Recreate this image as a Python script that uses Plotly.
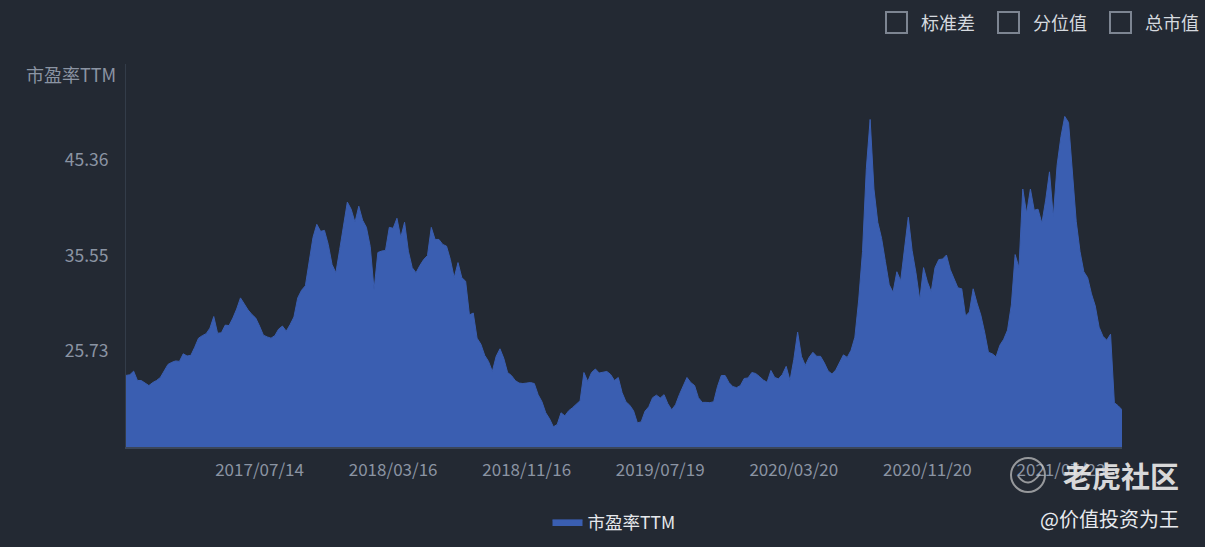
import pandas as pd
import plotly.graph_objects as go

start_date = "2016-11-11"
pe_ttm = [
    23.25, 23.32, 23.69, 22.73, 22.73, 22.45, 22.21, 22.52, 22.73, 23.04,
    23.66, 24.38, 24.59, 24.74, 24.69, 25.47, 25.24, 25.31, 26.14, 27.07,
    27.33, 27.53, 28.10, 29.29, 27.58, 27.62, 28.41, 28.36, 29.13, 30.06,
    31.20, 30.58, 29.96, 29.50, 29.13, 28.31, 27.38, 27.20, 27.07, 27.33,
    28.00, 28.31, 27.79, 28.46, 29.24, 31.20, 31.98, 32.44, 34.71, 37.40,
    38.74, 38.02, 38.12, 36.68, 34.61, 33.78, 36.16, 38.74, 41.02, 40.29,
    38.95, 40.60, 39.16, 38.43, 36.47, 32.03, 35.85, 36.00, 36.06, 38.43,
    38.33, 39.36, 37.40, 38.95, 35.98, 34.30, 33.78, 34.51, 35.13, 35.54,
    38.43, 37.19, 37.19, 36.68, 36.50, 35.13, 33.27, 34.82, 33.27, 32.91,
    29.45, 29.65, 27.07, 26.45, 25.31, 24.69, 23.66, 25.21, 25.98, 25.00,
    23.55, 23.24, 22.73, 22.47, 22.42, 22.47, 22.52, 22.42, 21.28, 20.56,
    19.42, 18.80, 17.98, 18.23, 19.42, 19.11, 19.63, 19.94, 20.35, 20.66,
    23.55, 22.63, 23.55, 23.91, 23.50, 23.61, 23.66, 23.35, 22.73, 23.04,
    21.49, 20.56, 20.20, 19.63, 18.39, 18.49, 19.58, 20.04, 20.97, 21.23,
    20.94, 21.28, 20.35, 19.73, 20.25, 21.28, 22.11, 23.04, 22.52, 22.21,
    20.97, 20.49, 20.49, 20.46, 20.56, 22.11, 23.24, 23.24, 22.52, 22.11,
    22.00, 22.21, 22.94, 22.99, 23.55, 23.45, 23.14, 22.78, 22.55, 23.76,
    23.04, 22.90, 23.35, 24.18, 22.73, 24.90, 27.69, 25.21, 24.28, 25.10,
    25.62, 25.21, 25.21, 24.54, 23.71, 23.40, 23.81, 24.59, 25.36, 25.10,
    25.83, 27.17, 30.99, 35.95, 44.43, 49.49, 42.36, 38.95, 37.30, 34.92,
    32.54, 31.77, 33.88, 32.96, 35.95, 39.47, 36.06, 33.78, 30.99, 34.30,
    32.85, 31.82, 34.30, 35.13, 35.18, 35.59, 34.09, 33.06, 32.23, 32.13,
    29.34, 29.75, 32.13, 30.68, 29.44, 27.69, 25.62, 25.47, 25.16, 26.35,
    26.96, 27.90, 30.48, 35.64, 34.30, 42.36, 39.88, 42.36, 40.19, 40.29,
    38.85, 41.22, 44.12, 39.47, 44.84, 47.73, 49.80, 49.18, 43.91, 39.05,
    35.95, 33.88, 33.27, 31.61, 30.37, 28.20, 27.27, 26.86, 27.48, 20.45,
    20.14, 19.73,
]
y_min, y_max = 15.915, 55.175
y_tick_values = [25.73, 35.545, 45.36]
y_tick_labels = ["25.73", "35.55", "45.36"]
x_tick_dates = ["2017-07-14", "2018-03-16", "2018-11-16", "2019-07-19",
                "2020-03-20", "2020-11-20", "2021-07-23"]
x_tick_labels = ["2017/07/14", "2018/03/16", "2018/11/16", "2019/07/19",
                 "2020/03/20", "2020/11/20", "2021/07/23"]
series_name = "市盈率TTM"
toggle_labels = ["标准差", "分位值", "总市值"]

dates = pd.date_range(start=start_date, periods=len(pe_ttm), freq="7D")

BG = "#232933"
FILL = "#3a5eb1"
TXT = "#8b94a3"
FONT = "Noto Sans CJK SC"

W, H = 1205, 547
ml, mr, mt, mb = 126, 83, 64, 100
PW, PH = W - ml - mr, H - mt - mb


def px(xp):
    return (xp - ml) / PW


def py(yp):
    return (H - mb - yp) / PH


fig = go.Figure()
fig.add_trace(go.Scatter(
    x=dates, y=pe_ttm, name=series_name, mode="lines",
    line=dict(color=FILL, width=1), fill="tozeroy", fillcolor=FILL,
))

fig.update_layout(
    width=W, height=H,
    paper_bgcolor=BG, plot_bgcolor=BG,
    margin=dict(l=ml, r=mr, t=mt, b=mb, autoexpand=False),
    font=dict(family=FONT, color=TXT, size=17),
    showlegend=True,
    legend=dict(orientation="h", x=px(614), xanchor="center",
                y=py(522), yanchor="middle", font=dict(color="#e6e8ec", size=17.5),
                bgcolor="rgba(0,0,0,0)", itemwidth=30),
    xaxis=dict(
        range=[dates[0], dates[-1]], showgrid=False, zeroline=False,
        showline=True, linecolor="#3b4658", linewidth=2,
        tickvals=pd.to_datetime(x_tick_dates), ticktext=x_tick_labels,
        ticks="", tickfont=dict(size=17, color=TXT), ticklabelstandoff=7,
        automargin=False,
    ),
    yaxis=dict(
        range=[y_min, y_max], showgrid=False, zeroline=False,
        showline=True, linecolor="#333c49", linewidth=1,
        tickvals=y_tick_values, ticktext=y_tick_labels, ticks="",
        tickfont=dict(size=17.5, color=TXT), ticklabelstandoff=13,
        automargin=False,
    ),
)

# y axis name
fig.add_annotation(xref="paper", yref="paper", x=px(118), y=py(74),
                   text=series_name, showarrow=False, xanchor="right", yanchor="middle",
                   font=dict(size=18, color=TXT))

# top toggles (checkbox style)
box_x = [886, 998, 1110]
for bx, lab in zip(box_x, toggle_labels):
    fig.add_shape(type="rect", xref="paper", yref="paper",
                  x0=px(bx), x1=px(bx + 21), y0=py(33), y1=py(12),
                  line=dict(color="#7d8592", width=2), fillcolor=BG)
    fig.add_annotation(xref="paper", yref="paper", x=px(bx + 33), y=py(22),
                       text=lab, showarrow=False, xanchor="left", yanchor="middle",
                       font=dict(size=18, color="#d5d9df"))

# watermark
fig.add_shape(type="circle", xref="paper", yref="paper",
              x0=px(1011), x1=px(1045), y0=py(492), y1=py(458),
              line=dict(color="rgba(200,200,200,0.7)", width=2))
fig.add_shape(type="path", xref="paper", yref="paper",
              path=f"M {px(1018)},{py(476)} Q {px(1028)},{py(490)} {px(1040)},{py(474)}",
              line=dict(color="rgba(200,200,200,0.7)", width=2))
fig.add_annotation(xref="paper", yref="paper", x=px(1181), y=py(475),
                   text="<b>老虎社区</b>", showarrow=False, xanchor="right", yanchor="middle",
                   font=dict(size=29, color="rgba(235,235,235,0.92)"))
fig.add_annotation(xref="paper", yref="paper", x=px(1181), y=py(518),
                   text="@价值投资为王", showarrow=False, xanchor="right", yanchor="middle",
                   font=dict(size=20, color="#e8eaee"))

fig.write_html("out.html", config={"displayModeBar": False})

with open("out.html", "r", encoding="utf-8") as f:
    html = f.read()
html = html.replace("<head>", "<head><style>html,body{margin:0;padding:0;background:#232933;overflow:hidden}</style>", 1)
with open("out.html", "w", encoding="utf-8") as f:
    f.write(html)
